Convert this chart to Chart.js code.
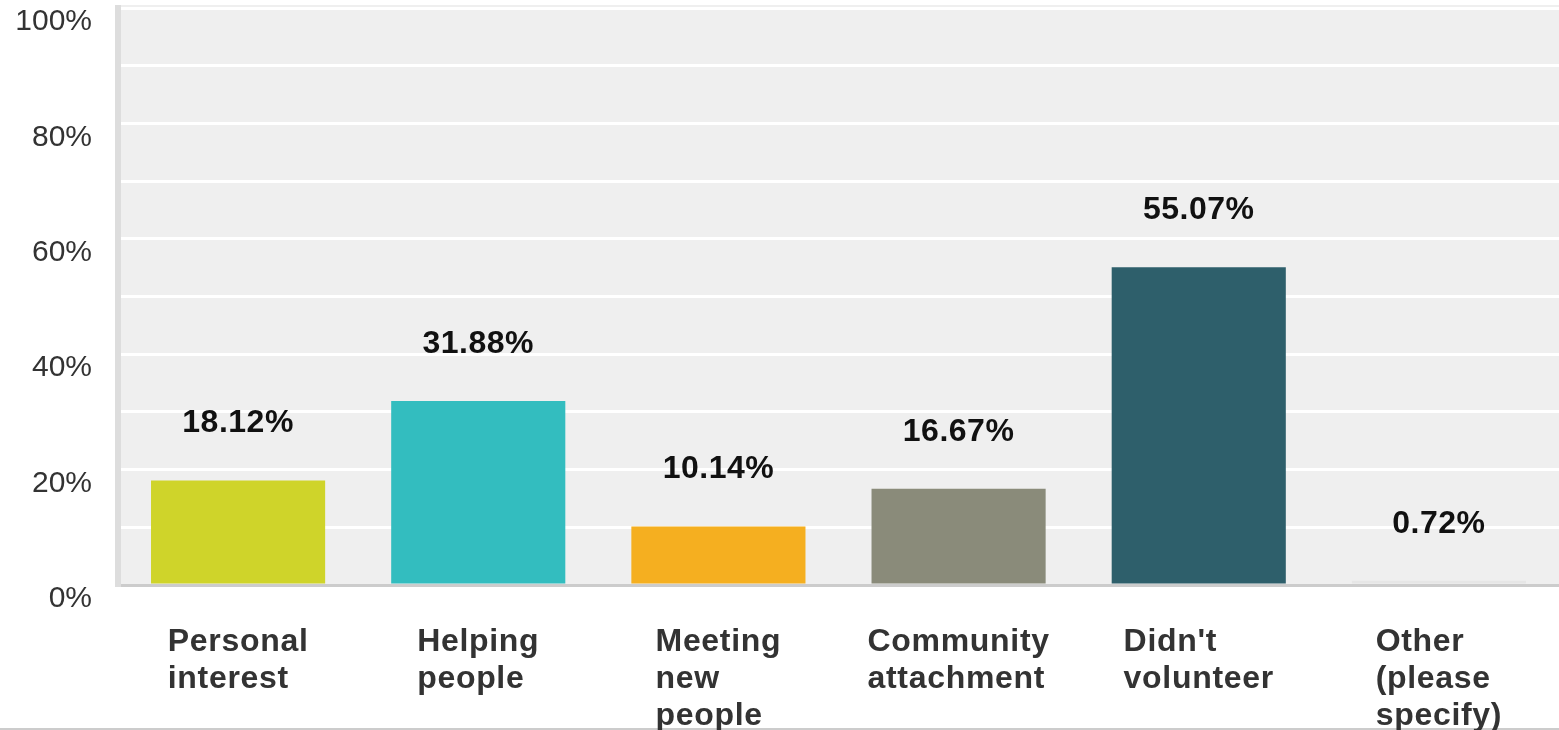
<!DOCTYPE html>
<html>
<head>
<meta charset="utf-8">
<script src="https://cdn.jsdelivr.net/npm/chart.js@4"></script>
<style>
  html, body { margin: 0; padding: 0; background: #ffffff; }
  #wrap { width: 1559px; height: 730px; position: relative; }
</style>
</head>
<body>
<div id="wrap"><canvas id="c" width="1559" height="730"></canvas></div>
<script>
const categories = [
  ["Personal", "interest"],
  ["Helping", "people"],
  ["Meeting", "new", "people"],
  ["Community", "attachment"],
  ["Didn't", "volunteer"],
  ["Other", "(please", "specify)"]
];
const percentValues = [18.12, 31.88, 10.14, 16.67, 55.07, 0.72];
const barColors = ["#CFD42A", "#33BDBF", "#F5AF20", "#8A8B7A", "#2E5F6B", "#E6E6E6"];
const yTickValues = [0, 20, 40, 60, 80, 100];

const FONT = "'Liberation Sans', Arial, sans-serif";

const bgPlugin = {
  id: 'bg',
  beforeDraw(chart) {
    const { ctx, chartArea: a } = chart;
    ctx.save();
    ctx.fillStyle = '#EFEFEF';
    ctx.fillRect(a.left, a.top - 3, a.right - a.left, a.bottom - a.top + 3);
    ctx.restore();
  },
  afterDraw(chart) {
    const { ctx, chartArea: a } = chart;
    ctx.save();
    // bottom frame line
    ctx.fillStyle = '#CCCCCC';
    ctx.fillRect(0, chart.height - 2, chart.width, 2);
    // category labels: left-aligned blocks centred on each category
    const xs = chart.scales.x;
    ctx.font = "bold 32px " + FONT;
    if ('letterSpacing' in ctx) ctx.letterSpacing = '0.7px';
    ctx.fillStyle = '#333333';
    ctx.textAlign = 'left';
    ctx.textBaseline = 'middle';
    categories.forEach((lines, i) => {
      const w = Math.max(...lines.map(l => ctx.measureText(l).width));
      const x0 = xs.getPixelForValue(i) - w / 2;
      lines.forEach((l, k) => {
        ctx.fillText(l, x0, a.bottom + 57 + k * 37);
      });
    });
    ctx.restore();
  },
  afterDatasetsDraw(chart) {
    const { ctx } = chart;
    const meta = chart.getDatasetMeta(0);
    ctx.save();
    ctx.font = "bold 32px " + FONT;
    if ('letterSpacing' in ctx) ctx.letterSpacing = '0.5px';
    ctx.fillStyle = '#111111';
    ctx.textAlign = 'center';
    ctx.textBaseline = 'middle';
    meta.data.forEach((bar, i) => {
      ctx.fillText(percentValues[i].toFixed(2) + '%', bar.x, bar.y - 57);
    });
    ctx.restore();
  }
};

new Chart(document.getElementById('c'), {
  type: 'bar',
  data: {
    labels: categories.map(c => c.join(' ')),
    datasets: [{
      data: percentValues,
      backgroundColor: barColors,
      borderWidth: 0,
      categoryPercentage: 1.0,
      barPercentage: 0.725
    }]
  },
  options: {
    responsive: false,
    animation: false,
    devicePixelRatio: 1,
    layout: { padding: { top: 8, right: 0, bottom: 0, left: 0 } },
    plugins: { legend: { display: false }, tooltip: { enabled: false } },
    scales: {
      x: {
        grid: { display: false, drawTicks: false },
        border: { display: true, color: '#CCCCCC', width: 3 },
        ticks: { display: false },
        afterFit(scale) { scale.height = 145; scale.paddingLeft = 0; scale.paddingRight = 0; }
      },
      y: {
        min: 0,
        max: 100,
        grid: { color: '#FFFFFF', lineWidth: 3, drawTicks: false },
        border: { display: true, color: '#DDDDDD', width: 6 },
        ticks: {
          stepSize: 10,
          padding: 26,
          labelOffset: 14,
          color: '#333333',
          font: { family: FONT, size: 30 },
          callback: (v) => yTickValues.includes(v) ? v + '%' : ''
        },
        afterFit(scale) { scale.width = 118; scale.paddingTop = 0; scale.paddingBottom = 0; }
      }
    }
  },
  plugins: [bgPlugin]
});
</script>
</body>
</html>
